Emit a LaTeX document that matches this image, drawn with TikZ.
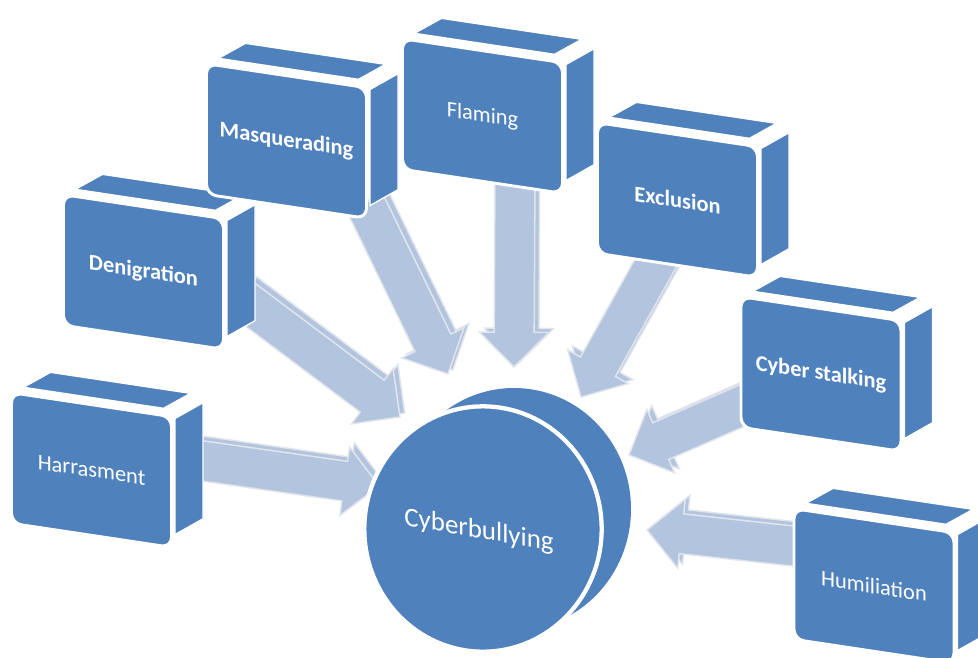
\documentclass[tikz,border=0pt]{standalone}
\usepackage{fontspec}
\setmainfont{Carlito}
\usetikzlibrary{calc,shapes.geometric}
\definecolor{boxblue}{RGB}{79,129,189}
\definecolor{arrfill}{RGB}{179,196,223}
\definecolor{arredge}{RGB}{226,230,236}

\tikzset{
  face/.style={fill=boxblue, draw=white, line width=1pt},
  frontface/.style={rectangle, rounded corners=7.5pt, fill=boxblue, draw=white,
    line width=2.2pt, minimum width=120pt, minimum height=98pt, inner sep=0pt,
    text=white, align=center},
  lbl/.style={font=\fontsize{16.8}{20}\selectfont},
  lblb/.style={font=\fontsize{16.8}{20}\selectfont\bfseries},
  arrfront/.style={fill=arrfill, draw=arredge, line width=1.1pt, line join=miter},
  arrback/.style={arrfront, transform canvas={shift={(3.6pt,3pt)}}},
}

% block arrow from start coordinate #2 to tip coordinate #3
\newcommand\cbarrow[3][]{%
  \coordinate (#2hb) at ($(#3)!26pt!(#2)$);
  \path[#1] ($(#2)!15pt!90:(#3)$) -- ($(#2hb)!15pt!90:(#3)$) -- ($(#2hb)!26pt!90:(#3)$) -- (#3)
    -- ($(#2hb)!26pt!-90:(#3)$) -- ($(#2hb)!15pt!-90:(#3)$) -- ($(#2)!15pt!-90:(#3)$) -- cycle;
}

% 3D box: name, cx, cy, style, text
\newcommand\cbcube[5]{%
  \begin{scope}[shift={(#2,#3)}, yslant=-0.15]
    \path[face] (-68,-72.5) -- (72,-72.5) -- (99,-91.5) -- (-41,-91.5) -- cycle;
    \path[face] (83.5,-64) -- (111.5,-84) -- (111.5,32) -- (83.5,52) -- cycle;
    \node[frontface, transform shape, #4] (#1) at (0,0) {#5};
  \end{scope}}

\begin{document}
\begin{tikzpicture}[x=0.75pt, y=-0.75pt]
\path[use as bounding box] (0,0) rectangle (978,657);
\clip (0,0) rectangle (978,657);

% arrow end points
\coordinate (s1) at (196,460); \coordinate (t1) at (379,486);
\coordinate (s2) at (240,297); \coordinate (t2) at (400,417);
\coordinate (s3) at (365,203); \coordinate (t3) at (448,374);
\coordinate (s4) at (515,175); \coordinate (t4) at (514,367);
\coordinate (s5) at (663,250); \coordinate (t5) at (581,397);
\coordinate (s6) at (755,400); \coordinate (t6) at (629,455);
\coordinate (s7) at (802,547); \coordinate (t7) at (647,530);

\foreach \i in {1,...,7} {\cbarrow[arrback]{s\i}{t\i}}
\foreach \i in {1,...,7} {\cbarrow[arrfront]{s\i}{t\i}}

% central disk: back face, then front face with white rim
\fill[boxblue] (514,509) ellipse [x radius=117, y radius=121];
\node[ellipse, fill=boxblue, draw=white, line width=3.2pt, minimum width=178pt,
      minimum height=184pt, inner sep=0pt] (disk) at (483,529) {};
\begin{scope}[shift={(479,531)}, yslant=-0.17]
  \node[transform shape, text=white, font=\fontsize{20.2}{24}\selectfont] (hub) at (0,0) {Cyberbullying};
\end{scope}

% boxes
\cbcube{harr}{91.5}{470}{lbl}{Harrasment}
\cbcube{deni}{143.5}{272}{lblb}{Denigration}
\cbcube{masq}{286.5}{141}{lblb}{Masquerading}
\cbcube{flam}{482.5}{116}{lbl}{Flaming}
\cbcube{excl}{677.5}{200}{lblb}{Exclusion}
\cbcube{cybs}{821}{374}{lblb}{Cyber stalking}
\cbcube{humi}{874}{586}{lbl}{Humiliation}
\end{tikzpicture}
\end{document}
